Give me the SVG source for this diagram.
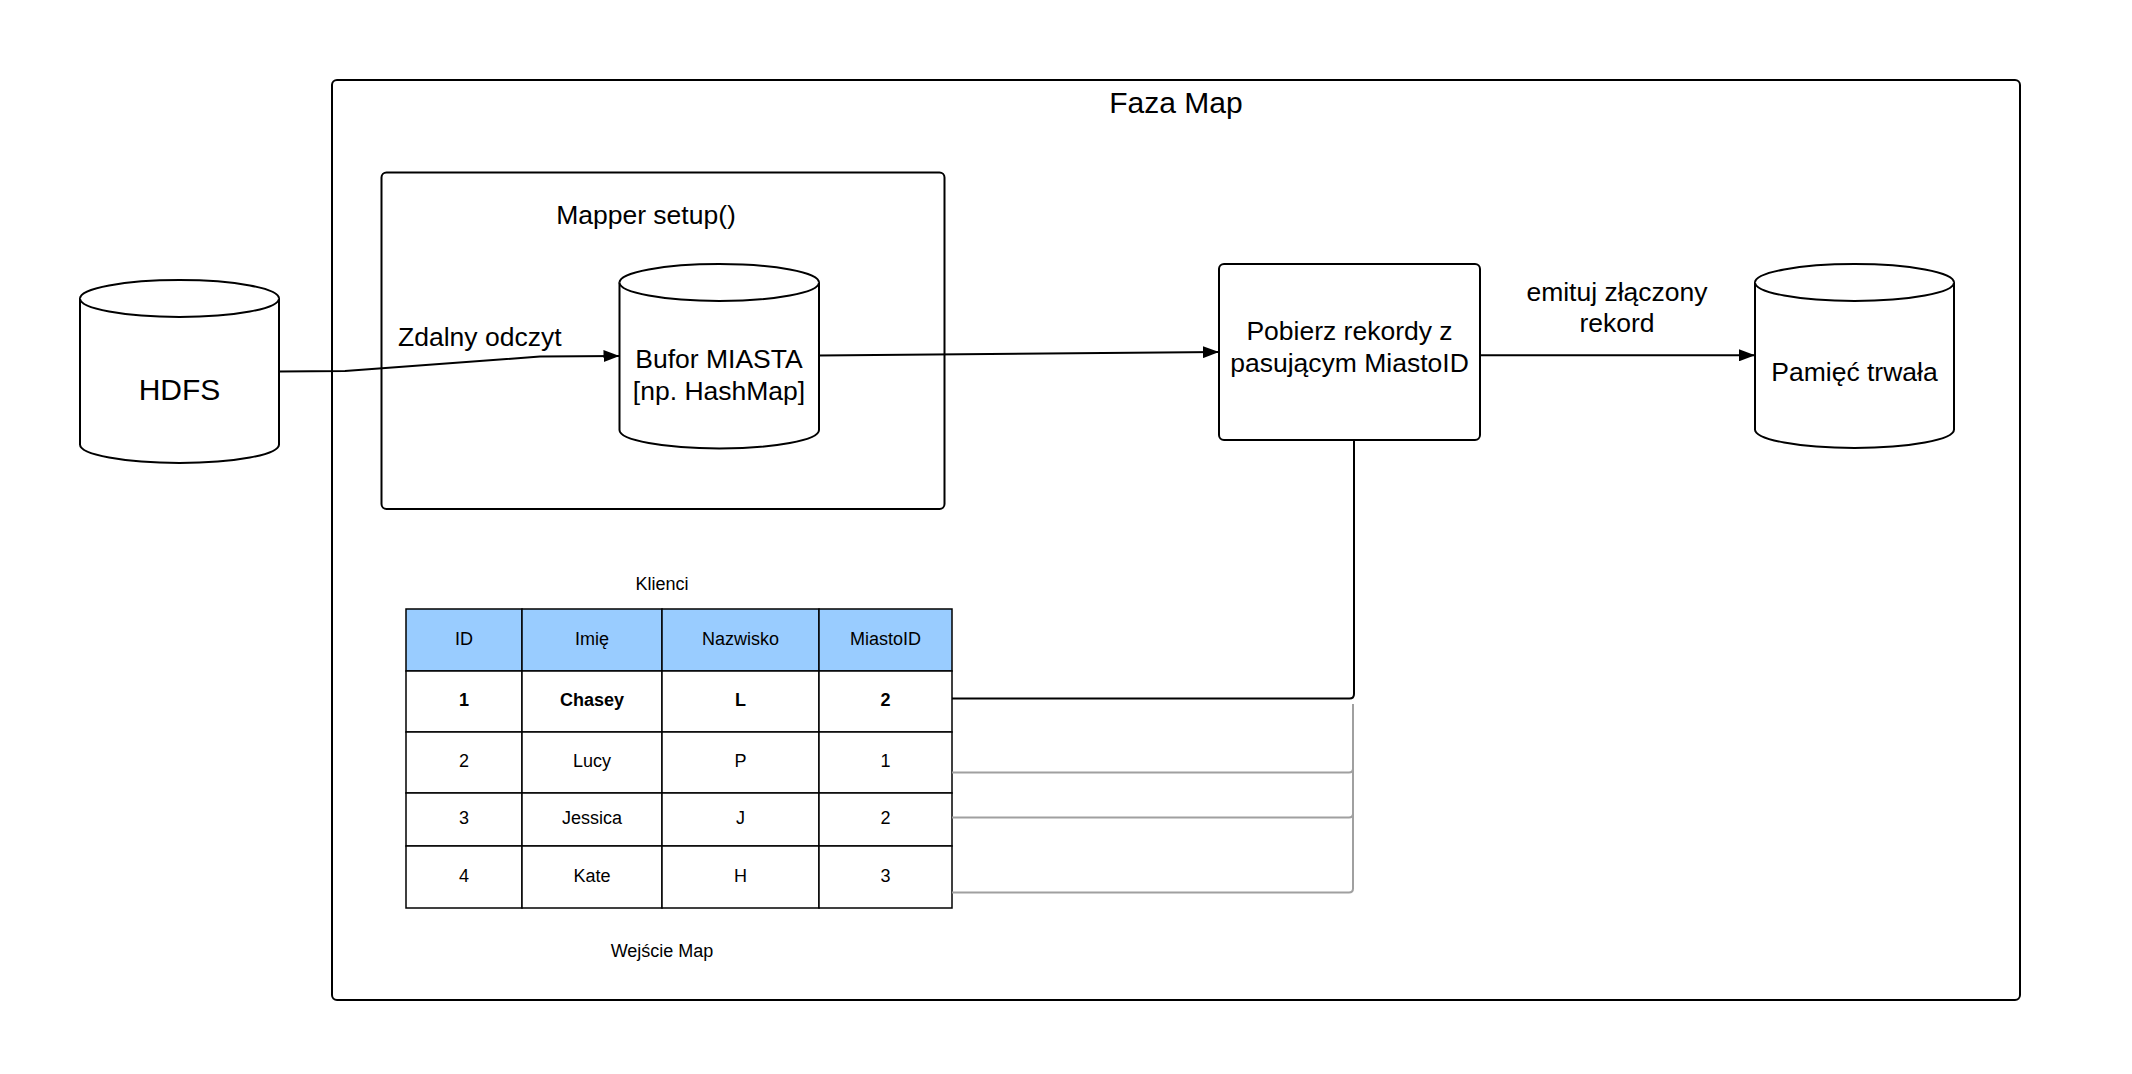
<svg xmlns="http://www.w3.org/2000/svg" width="2132" height="1074" viewBox="0 0 2132 1074">
<style>
  .t { font-family: "Liberation Sans", Arial, sans-serif; fill: #000; }
  .big { font-size: 26.5px; }
  .small { font-size: 18px; }
  .box { fill: #fff; stroke: #000; stroke-width: 2; }
  .cyl { fill: #fff; stroke: #000; stroke-width: 2; stroke-linejoin: round; }
  .conn { fill: none; stroke: #000; stroke-width: 2; stroke-linejoin: round; }
  .gray { fill: none; stroke: #a0a0a0; stroke-width: 2; stroke-linejoin: round; }
  .cell { fill: #fff; stroke: #000; stroke-width: 1.5; }
  .head { fill: #99ccff; stroke: #000; stroke-width: 1.5; }
</style>
<defs>
  <marker id="arrow" markerUnits="userSpaceOnUse" markerWidth="16" markerHeight="12" refX="16" refY="6" orient="auto">
    <path d="M0,0 L16,6 L0,12 Z" fill="#000"/>
  </marker>
</defs>
<rect width="2132" height="1074" fill="#fff"/>

<g id="faza-map">
  <rect class="box" x="332" y="80" width="1688" height="920" rx="5"/>
  <text class="t" x="1176" y="113" font-size="30" text-anchor="middle">Faza Map</text>
</g>

<g id="mapper-setup">
  <rect class="box" x="381.5" y="172.5" width="563" height="336.5" rx="5"/>
  <text class="t big" x="646" y="224" text-anchor="middle">Mapper setup()</text>
</g>

<g id="hdfs">
  <path class="cyl" d="M80,298.5 L80,444.5 A99.5,18.5 0 0 0 279,444.5 L279,298.5 A99.5,18.5 0 0 0 80,298.5 Z"/>
  <path class="cyl" fill="none" d="M80,298.5 A99.5,18.5 0 0 0 279,298.5"/>
  <text class="t" x="179.5" y="400" font-size="30" text-anchor="middle">HDFS</text>
</g>

<g id="bufor-miasta">
  <path class="cyl" d="M619.5,282.5 L619.5,430 A99.75,18.5 0 0 0 819,430 L819,282.5 A99.75,18.5 0 0 0 619.5,282.5 Z"/>
  <path class="cyl" fill="none" d="M619.5,282.5 A99.75,18.5 0 0 0 819,282.5"/>
  <text class="t big" x="719" y="368" text-anchor="middle">Bufor MIASTA</text>
  <text class="t big" x="719" y="400" text-anchor="middle">[np. HashMap]</text>
</g>

<g id="pobierz-rekordy">
  <rect class="box" x="1219" y="264" width="261" height="176" rx="5"/>
  <text class="t big" x="1349.5" y="340" text-anchor="middle">Pobierz rekordy z</text>
  <text class="t big" x="1349.5" y="372" text-anchor="middle">pasującym MiastoID</text>
</g>

<g id="pamiec-trwala">
  <path class="cyl" d="M1755,282.5 L1755,429.5 A99.5,18.5 0 0 0 1954,429.5 L1954,282.5 A99.5,18.5 0 0 0 1755,282.5 Z"/>
  <path class="cyl" fill="none" d="M1755,282.5 A99.5,18.5 0 0 0 1954,282.5"/>
  <text class="t big" x="1854.5" y="381" text-anchor="middle">Pamięć trwała</text>
</g>

<g id="klienci-table">
  <text class="t small" x="662" y="590" text-anchor="middle">Klienci</text>
  <rect class="head" x="406" y="609" width="116" height="62"/>
  <rect class="head" x="522" y="609" width="140" height="62"/>
  <rect class="head" x="662" y="609" width="157" height="62"/>
  <rect class="head" x="819" y="609" width="133" height="62"/>
  <g>
    <rect class="cell" x="406" y="671" width="116" height="61"/>
    <rect class="cell" x="522" y="671" width="140" height="61"/>
    <rect class="cell" x="662" y="671" width="157" height="61"/>
    <rect class="cell" x="819" y="671" width="133" height="61"/>
    <rect class="cell" x="406" y="732" width="116" height="61"/>
    <rect class="cell" x="522" y="732" width="140" height="61"/>
    <rect class="cell" x="662" y="732" width="157" height="61"/>
    <rect class="cell" x="819" y="732" width="133" height="61"/>
    <rect class="cell" x="406" y="793" width="116" height="53"/>
    <rect class="cell" x="522" y="793" width="140" height="53"/>
    <rect class="cell" x="662" y="793" width="157" height="53"/>
    <rect class="cell" x="819" y="793" width="133" height="53"/>
    <rect class="cell" x="406" y="846" width="116" height="62"/>
    <rect class="cell" x="522" y="846" width="140" height="62"/>
    <rect class="cell" x="662" y="846" width="157" height="62"/>
    <rect class="cell" x="819" y="846" width="133" height="62"/>
  </g>
  <g class="t small" text-anchor="middle">
    <text x="464" y="645">ID</text>
    <text x="592" y="645">Imię</text>
    <text x="740.5" y="645">Nazwisko</text>
    <text x="885.5" y="645">MiastoID</text>
    <g font-weight="bold">
      <text x="464" y="706">1</text>
      <text x="592" y="706">Chasey</text>
      <text x="740.5" y="706">L</text>
      <text x="885.5" y="706">2</text>
    </g>
    <text x="464" y="767">2</text>
    <text x="592" y="767">Lucy</text>
    <text x="740.5" y="767">P</text>
    <text x="885.5" y="767">1</text>
    <text x="464" y="824">3</text>
    <text x="592" y="824">Jessica</text>
    <text x="740.5" y="824">J</text>
    <text x="885.5" y="824">2</text>
    <text x="464" y="882">4</text>
    <text x="592" y="882">Kate</text>
    <text x="740.5" y="882">H</text>
    <text x="885.5" y="882">3</text>
  </g>
  <text class="t small" x="662" y="957" text-anchor="middle">Wejście Map</text>
</g>

<g id="connectors">
  <path class="gray" d="M952,772.5 L1349,772.5 Q1353,772.5 1353,768.5 L1353,704"/>
  <path class="gray" d="M952,817.5 L1349,817.5 Q1353,817.5 1353,813.5 L1353,704"/>
  <path class="gray" d="M952,892.5 L1349,892.5 Q1353,892.5 1353,888.5 L1353,704"/>
  <path class="conn" d="M1354,440 L1354,694 Q1354,698.5 1349.5,698.5 L952,698.5"/>
  <path class="conn" marker-end="url(#arrow)" d="M279,371.5 L345,371 L540,356.5 L619.5,356"/>
  <text class="t big" x="398" y="346">Zdalny odczyt</text>
  <path class="conn" marker-end="url(#arrow)" d="M819,355.5 L1219,352"/>
  <path class="conn" marker-end="url(#arrow)" d="M1480,355.3 L1755,355.3"/>
  <text class="t big" x="1617" y="301" text-anchor="middle">emituj złączony</text>
  <text class="t big" x="1617" y="332" text-anchor="middle">rekord</text>
</g>
</svg>
